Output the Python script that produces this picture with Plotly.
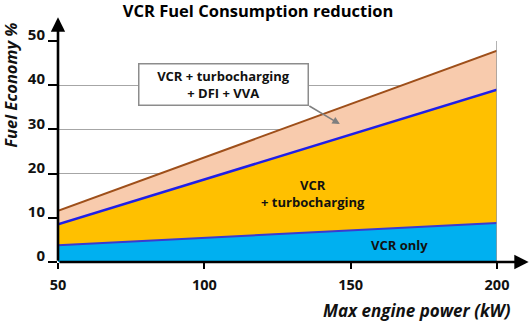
import plotly.graph_objects as go

# ---- data ----
power_kw = [50, 200]
vcr_only = [3.8, 8.8]
vcr_turbo = [8.5, 39.0]
vcr_turbo_dfi_vva = [11.6, 47.8]
x_ticks = [50, 100, 150, 200]
y_ticks = [0, 10, 20, 30, 40, 50]

title_text = "VCR Fuel Consumption reduction"
x_title = "Max engine power (kW)"
y_title = "Fuel Economy %"
lbl_only = "VCR only"
lbl_turbo = "VCR<br>+ turbocharging"
lbl_full = "VCR + turbocharging<br>+ DFI + VVA"

FONT = "'Open Sans', sans-serif"
TXT = "#111111"

fig = go.Figure()
fig.add_trace(go.Scatter(x=power_kw, y=vcr_only, mode="lines", fill="tozeroy",
                         fillcolor="#00B0F0", line=dict(color="#3a3ad0", width=2)))
fig.add_trace(go.Scatter(x=power_kw, y=vcr_turbo, mode="lines", fill="tonexty",
                         fillcolor="#FFC000", line=dict(color="#1f1fe8", width=2.5)))
fig.add_trace(go.Scatter(x=power_kw, y=vcr_turbo_dfi_vva, mode="lines", fill="tonexty",
                         fillcolor="#F8CBAD", line=dict(color="#9E4F1A", width=2)))

# right frame
fig.add_shape(type="line", xref="x", yref="y", x0=200, x1=200, y0=0, y1=50,
              line=dict(color="#9a9a9a", width=1.5), layer="above")

# axis arrows
fig.add_annotation(xref="paper", yref="paper", x=1.072, y=0, ax=-470.7, ay=0,
                   text="", showarrow=True,
                   arrowhead=2, arrowsize=1.1, arrowwidth=2.6, arrowcolor="black")
fig.add_annotation(xref="paper", yref="paper", x=0, y=1.107, ax=0, ay=245,
                   text="", showarrow=True,
                   arrowhead=2, arrowsize=1.1, arrowwidth=2.6, arrowcolor="black")

# labels
LBL = dict(family=FONT, size=13, color=TXT, weight="bold")
fig.add_annotation(x=166.8, y=3.9, text=lbl_only, showarrow=False, font=LBL)
fig.add_annotation(x=137.0, y=15.5, text=lbl_turbo, showarrow=False, font=LBL)
fig.add_annotation(x=106.6, y=40.2, text=lbl_full, showarrow=False, font=LBL,
                   bgcolor="white", bordercolor="#8c8c8c", borderwidth=1.5,
                   borderpad=2, width=164, height=36)
# callout arrow
fig.add_annotation(x=146.3, y=31.2, ax=-32, ay=-19, text="", showarrow=True,
                   arrowhead=2, arrowsize=1, arrowwidth=1.5, arrowcolor="#7f7f7f")

# axis titles
fig.add_annotation(xref="paper", yref="paper", x=1.036, y=-0.221, xanchor="right",
                   yanchor="middle", text=x_title, showarrow=False,
                   font=dict(family=FONT, size=17, color=TXT, weight="bold", style="italic"))
fig.add_annotation(xref="paper", yref="paper", x=-0.108, y=0.80, xanchor="center",
                   yanchor="middle", text=y_title, textangle=-90, showarrow=False,
                   font=dict(family=FONT, size=16.5, color=TXT, weight="bold", style="italic"))

fig.update_layout(
    width=532, height=322,
    margin=dict(l=58.3, r=34.7, t=40.7, b=60),
    paper_bgcolor="white", plot_bgcolor="white",
    showlegend=False,
    title=dict(text=title_text, x=0.485, xref="container", y=0.964, yref="container",
               xanchor="center", yanchor="middle",
               font=dict(family=FONT, size=16.5, color="black", weight="bold")),
    xaxis=dict(range=[50, 200], tickvals=x_ticks, showgrid=False, zeroline=False,
               showline=False, ticks="outside", ticklen=6, tickwidth=2, tickcolor="black",
               ticklabelstandoff=4,
               tickfont=dict(family=FONT, size=14.5, color=TXT, weight="bold")),
    yaxis=dict(range=[0, 50], tickvals=y_ticks, showgrid=True, gridcolor="#a6a6a6",
               gridwidth=1.3, zeroline=False, showline=False, ticks="outside",
               ticklen=9, tickwidth=1.5, tickcolor="black", ticklabelshift=-6,
               ticklabelstandoff=0,
               tickfont=dict(family=FONT, size=15, color=TXT, weight="bold")),
)

fig.write_html("out.html")
